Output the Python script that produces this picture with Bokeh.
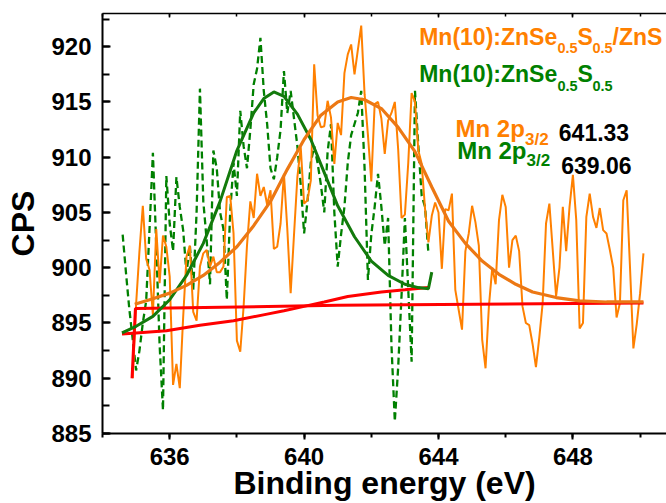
import numpy as np
from bokeh.plotting import figure
from bokeh.models import (Range1d, LinearAxis, SingleIntervalTicker, Label,
                          CustomJSTickFormatter)
from bokeh.embed import file_html
from bokeh.resources import INLINE

# ---------------- data ----------------
# Mn(10):ZnSe0.5S0.5/ZnS raw spectrum, 0.1 eV steps starting at 634.9 eV
orange_start = 634.9
orange_cps = [
    890.0, 896.7, 901.5, 905.6, 900.8, 899.8, 895.7, 903.5, 898.6, 902.9,
    901.9, 899.2, 889.4, 891.3, 889.1, 895.5, 901.0, 902.0, 896.0, 895.2,
    900.1, 901.3, 901.6, 900.1, 901.0, 899.6, 899.6, 900.1, 906.4, 906.5,
    903.1, 893.4, 892.4, 896.5, 902.0, 906.0, 904.5, 908.5, 906.5, 907.3,
    905.7, 907.0, 901.7, 901.9, 904.0, 908.5, 903.5, 897.7, 903.0, 908.2,
    910.9, 905.8, 906.1, 907.9, 918.4, 913.8, 912.7, 912.8, 915.1, 913.6,
    909.4, 913.1, 912.0, 917.6, 919.3, 920.2, 917.5, 919.7, 921.9, 915.7,
    912.0, 907.8, 914.8, 915.0, 913.5, 910.3, 913.3, 914.0, 915.0, 910.7,
    904.5, 904.8, 909.5, 915.8, 915.0, 910.6, 909.4, 905.3, 902.3, 904.7,
    905.9, 905.0, 899.9, 905.3, 905.2, 906.7, 898.0, 896.2, 894.4, 901.5,
    903.1, 905.6, 904.1, 902.0, 893.5, 890.9, 896.5, 900.0, 898.5, 904.3,
    906.6, 905.5, 900.0, 902.5, 902.9, 901.5, 896.5, 895.0, 894.8, 893.1,
    891.0, 893.7, 896.8, 904.0, 905.8, 901.6, 897.4, 900.0, 905.5, 901.5,
    905.5, 908.4, 904.3, 894.5, 895.0, 904.6, 906.7, 904.6, 903.6, 905.4,
    903.4, 903.1, 901.6, 900.0, 895.5, 896.8, 906.1, 907.0, 900.0, 892.7,
    894.9, 897.7, 901.3,
]

# Mn(10):ZnSe0.5S0.5 raw spectrum, 0.1 eV steps starting at 634.6 eV
green_start = 634.6
green_cps = [
    903.0, 899.5, 896.2, 893.5, 890.7, 892.5, 895.0, 897.0, 903.5, 910.4,
    902.0, 893.0, 887.1, 908.3, 904.0, 901.5, 908.2, 905.5, 903.4, 899.5,
    902.0, 898.0, 905.0, 916.2, 906.0, 902.5, 898.5, 910.6, 909.0, 905.0,
    903.5, 897.1, 905.0, 909.5, 906.5, 914.2, 911.0, 909.0, 912.5, 916.6,
    918.0, 920.8, 916.0, 913.0, 909.0, 908.0, 910.0, 912.5, 917.8, 914.0,
    916.0, 913.5, 911.0, 907.5, 903.1, 906.0, 909.5, 911.0, 909.5, 907.5,
    905.0, 910.5, 913.0, 905.0, 900.1, 903.0, 905.5, 909.5, 912.0, 913.0,
    914.0, 916.0, 909.0, 898.9, 903.0, 905.5, 908.5, 905.5, 902.0, 904.5,
    893.0, 886.1, 891.0, 897.5, 904.5, 898.0, 891.5, 916.0, 911.0, 906.5,
    905.5, 901.3,
]

# fitted peak envelopes
orange_fit_e = [634.96, 635.5, 636.0, 636.5, 637.0, 637.5, 638.0, 638.5, 639.0,
                639.5, 640.0, 640.5, 641.0, 641.4, 641.8, 642.3, 642.8, 643.3,
                643.8, 644.3, 644.8, 645.3, 645.8, 646.3, 646.8, 647.5, 648.2,
                649.0, 650.1]
orange_fit_v = [896.7, 897.2, 897.7, 898.4, 899.3, 900.5, 901.9, 903.8, 906.0,
                908.9, 911.6, 913.8, 915.0, 915.4, 915.2, 914.4, 912.7, 910.5,
                907.3, 904.2, 902.2, 900.6, 899.4, 898.5, 897.8, 897.3, 897.0,
                896.9, 896.9]

green_fit_e = [634.58, 635.0, 635.5, 636.0, 636.5, 637.0, 637.5, 638.0, 638.5,
               638.8, 639.1, 639.4, 639.8, 640.2, 640.6, 641.0, 641.5, 642.0,
               642.5, 643.0, 643.4, 643.7, 643.8]
green_fit_v = [894.1, 894.7, 895.6, 897.1, 899.3, 902.2, 906.0, 910.6, 914.0,
               915.3, 915.9, 915.5, 913.9, 911.6, 908.6, 905.6, 902.8, 900.6,
               899.3, 898.5, 898.2, 898.1, 899.6]

# backgrounds
orange_bg_e = [634.88, 634.98, 641.0, 650.1]
orange_bg_v = [890.0, 896.3, 896.6, 896.8]
green_bg_e = [634.58, 635.0, 635.9, 636.9, 637.9, 638.9, 639.4, 640.0, 640.6,
              641.3, 642.3, 643.0, 643.69]
green_bg_v = [894.0, 894.1, 894.3, 894.8, 895.2, 895.8, 896.1, 896.5, 896.9,
              897.4, 897.8, 898.0, 898.2]

orange_e = np.round(orange_start + 0.1 * np.arange(len(orange_cps)), 2)
green_e = np.round(green_start + 0.1 * np.arange(len(green_cps)), 2)

# ---------------- figure ----------------
M = 0  # observed page offset of the canvas
W, H = 666, 503
BL, BR, BT, BB = 102, 0, 13, 70
XS = 634.0
XE = XS + (W - BL - BR) / 33.6
YS, YE = 885.0, 923.0
FW, FH = W - BL - BR, H - BT - BB

ORANGE = "#FF8000"
GREEN = "#008000"
FONT = "Liberation Sans"

p = figure(width=W, height=H, x_range=Range1d(XS, XE), y_range=Range1d(YS, YE),
           output_backend="svg", toolbar_location=None,
           min_border_left=BL, min_border_right=BR, min_border_top=BT,
           min_border_bottom=BB)
p.outline_line_color = None
p.grid.visible = False
p.background_fill_color = "white"
p.border_fill_color = "white"

xa = p.xaxis[0]
xa.ticker = SingleIntervalTicker(interval=4, num_minor_ticks=2)
xa.major_tick_in = 0
xa.major_tick_out = 6
xa.minor_tick_in = 0
xa.minor_tick_out = 4
xa.axis_line_width = 2
xa.major_tick_line_width = 2
xa.minor_tick_line_width = 2
xa.major_label_standoff = 8
xa.major_label_text_font = FONT
xa.major_label_text_font_style = "bold"
xa.major_label_text_font_size = "24px"
xa.major_label_text_color = "black"
xa.axis_label = "Binding energy (eV)"
xa.axis_label_text_font = FONT
xa.axis_label_text_font_style = "bold"
xa.axis_label_text_font_size = "32px"
xa.axis_label_text_color = "black"
xa.axis_label_standoff = -3

ya = p.yaxis[0]
ya.ticker = SingleIntervalTicker(interval=5, num_minor_ticks=2)
ya.major_tick_in = 8
ya.major_tick_out = 0
ya.minor_tick_in = 7
ya.minor_tick_out = 0
ya.axis_line_width = 2
ya.major_tick_line_width = 2
ya.minor_tick_line_width = 2
ya.major_label_standoff = 11
ya.major_label_text_font = FONT
ya.major_label_text_font_style = "bold"
ya.major_label_text_font_size = "24px"
ya.major_label_text_color = "black"
ya.axis_label = "CPS"
ya.axis_label_text_font = FONT
ya.axis_label_text_font_style = "bold"
ya.axis_label_text_font_size = "32px"
ya.axis_label_text_color = "black"
ya.axis_label_standoff = 7

top = LinearAxis(ticker=SingleIntervalTicker(interval=4, num_minor_ticks=2),
                 formatter=CustomJSTickFormatter(code="return ''"),
                 major_tick_in=4, major_tick_out=0, minor_tick_in=3,
                 minor_tick_out=0, major_label_standoff=0,
                 axis_line_width=1.5, major_tick_line_width=1.5,
                 minor_tick_line_width=1.5)
p.add_layout(top, "above")

# ---------------- glyphs ----------------
p.line(green_e, green_cps, line_color=GREEN, line_width=2.3, line_dash="7 4")
p.line(orange_e, orange_cps, line_color=ORANGE, line_width=2)
p.line(orange_bg_e, orange_bg_v, line_color="#FF0000", line_width=3)
p.line(green_bg_e, green_bg_v, line_color="#FF0000", line_width=3)
p.line(green_fit_e, green_fit_v, line_color="#137A0C", line_width=3)
p.line(orange_fit_e, orange_fit_v, line_color="#EC7814", line_width=3.2)


# ---------------- texts ----------------
def dx(px):
    return XS + (px - M - BL) * (XE - XS) / FW


def dy(py):
    return YE - (py - M - BT) * (YE - YS) / FH


def txt(px, py, s, size, color):
    p.add_layout(Label(x=dx(px), y=dy(py), text=s, text_font=FONT,
                       text_font_style="bold", text_font_size=size,
                       text_color=color, text_align="left",
                       text_baseline="alphabetic"))


# legend lines
for py_main, py_sub, col, tail in [(36.7, 47.0, ORANGE, "/ZnS"),
                                   (73.3, 85.0, GREEN, "")]:
    txt(418.7, py_main, "Mn(10):ZnSe", "23px", col)
    txt(557.0, py_sub, "0.5", "14.5px", col)
    txt(577.0, py_main, "S", "23px", col)
    txt(592.0, py_sub, "0.5", "14.5px", col)
    if tail:
        txt(612.0, py_main, tail, "23px", col)

# peak positions
txt(455.0, 128.3, "Mn 2p", "24px", ORANGE)
txt(524.5, 139.3, "3/2", "17px", ORANGE)
txt(558.3, 132.3, "641.33", "23px", "black")
txt(456.7, 150.0, "Mn 2p", "24px", GREEN)
txt(526.0, 160.0, "3/2", "17px", GREEN)
txt(560.7, 165.0, "639.06", "23px", "black")

open("out.html", "w").write(file_html(p, INLINE))
